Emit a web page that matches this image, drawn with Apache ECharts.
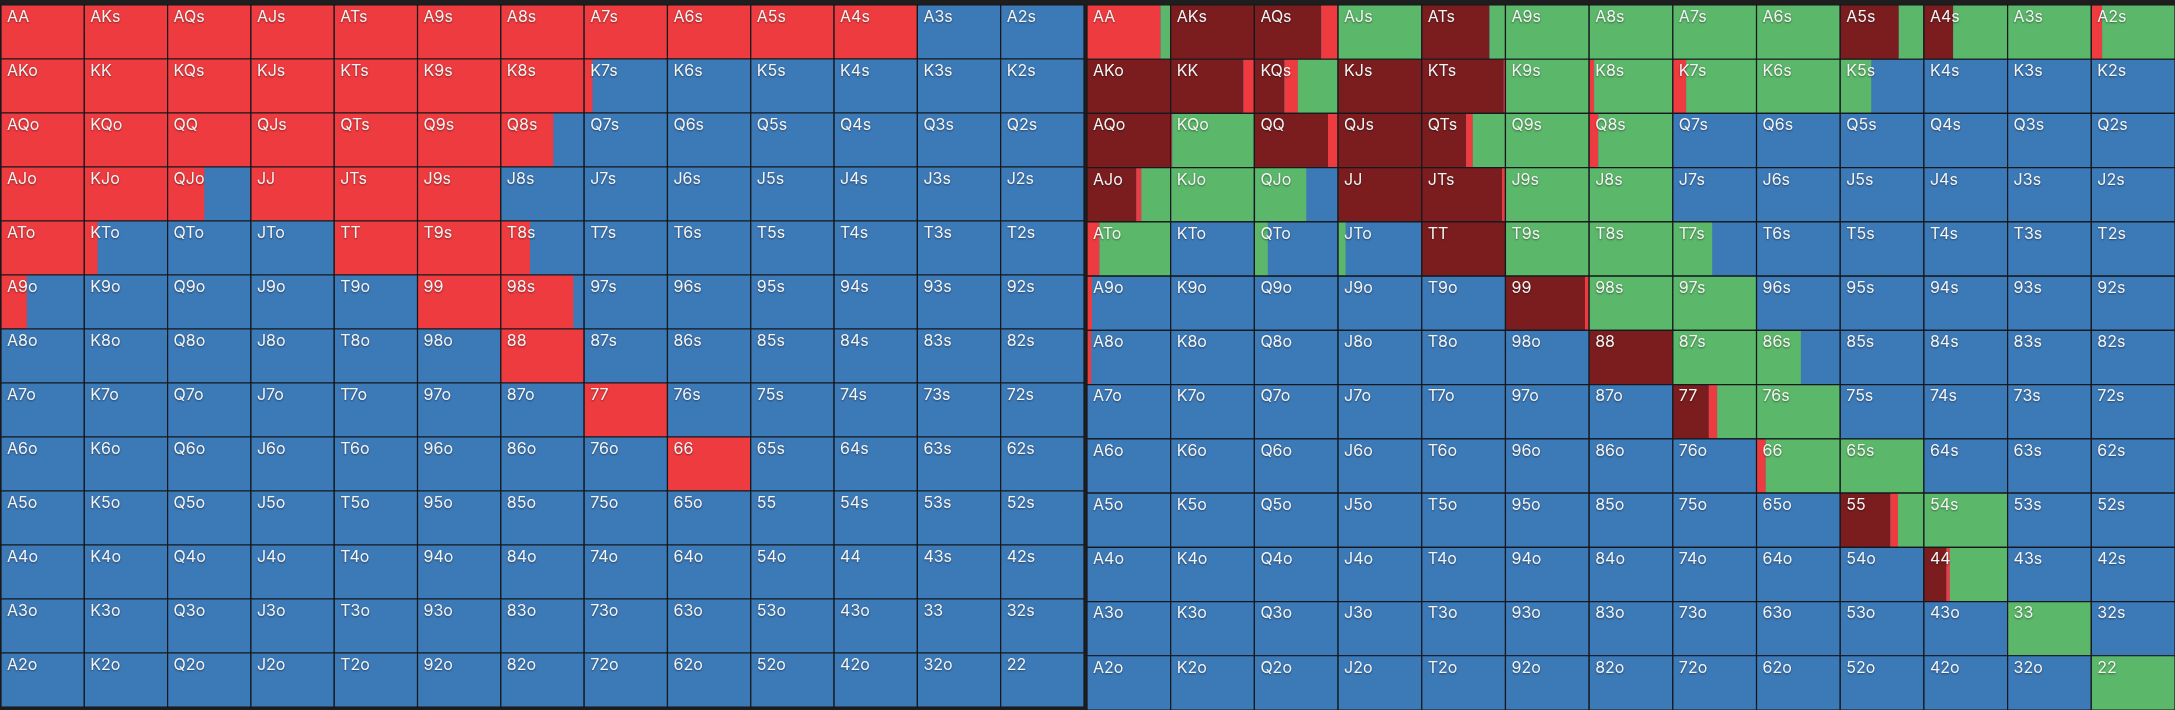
<!DOCTYPE html>
<html>
<head>
<meta charset="utf-8">
<title>range grid</title>
<script src="https://cdn.jsdelivr.net/npm/echarts@6/dist/echarts.min.js"></script>
<style>
    html, body { margin: 0; padding: 0; background: #1e1e1e; }
    #main { width: 2175px; height: 710px; }
</style>
</head>
<body>
<div id="main"></div>
<script>
// 牌面顺序
var ranks = ['A', 'K', 'Q', 'J', 'T', '9', '8', '7', '6', '5', '4', '3', '2'];

// 左图: 加注比例(红色), 其余为弃牌(蓝色)
var leftRaise = [
    [1, 1, 1, 1, 1, 1, 1, 1, 1, 1, 1, 0, 0],
    [1, 1, 1, 1, 1, 1, 1, 0.1, 0, 0, 0, 0, 0],
    [1, 1, 1, 1, 1, 1, 0.63, 0, 0, 0, 0, 0, 0],
    [1, 1, 0.44, 1, 1, 1, 0, 0, 0, 0, 0, 0, 0],
    [1, 0.16, 0, 0, 1, 1, 0.35, 0, 0, 0, 0, 0, 0],
    [0.31, 0, 0, 0, 0, 1, 0.87, 0, 0, 0, 0, 0, 0],
    [0, 0, 0, 0, 0, 0, 1, 0, 0, 0, 0, 0, 0],
    [0, 0, 0, 0, 0, 0, 0, 1, 0, 0, 0, 0, 0],
    [0, 0, 0, 0, 0, 0, 0, 0, 1, 0, 0, 0, 0],
    [0, 0, 0, 0, 0, 0, 0, 0, 0, 0, 0, 0, 0],
    [0, 0, 0, 0, 0, 0, 0, 0, 0, 0, 0, 0, 0],
    [0, 0, 0, 0, 0, 0, 0, 0, 0, 0, 0, 0, 0],
    [0, 0, 0, 0, 0, 0, 0, 0, 0, 0, 0, 0, 0]
];

// 右图: 再加注(深红), 加注(红), 跟注(绿), 其余弃牌(蓝)
var rightReraise = [
    [0, 1, 0.8, 0, 0.81, 0, 0, 0, 0, 0.7, 0.35, 0, 0],
    [1, 0.87, 0.36, 1, 0.98, 0, 0, 0, 0, 0, 0, 0, 0],
    [1, 0, 0.88, 1, 0.53, 0, 0, 0, 0, 0, 0, 0, 0],
    [0.59, 0, 0, 1, 0.96, 0, 0, 0, 0, 0, 0, 0, 0],
    [0, 0, 0, 0, 1, 0, 0, 0, 0, 0, 0, 0, 0],
    [0, 0, 0, 0, 0, 0.95, 0, 0, 0, 0, 0, 0, 0],
    [0, 0, 0, 0, 0, 0, 1, 0, 0, 0, 0, 0, 0],
    [0, 0, 0, 0, 0, 0, 0, 0.43, 0, 0, 0, 0, 0],
    [0, 0, 0, 0, 0, 0, 0, 0, 0, 0, 0, 0, 0],
    [0, 0, 0, 0, 0, 0, 0, 0, 0, 0.6, 0, 0, 0],
    [0, 0, 0, 0, 0, 0, 0, 0, 0, 0, 0.27, 0, 0],
    [0, 0, 0, 0, 0, 0, 0, 0, 0, 0, 0, 0, 0],
    [0, 0, 0, 0, 0, 0, 0, 0, 0, 0, 0, 0, 0]
];
var rightRaise = [
    [0.88, 0, 0.2, 0, 0, 0, 0, 0, 0, 0, 0, 0, 0.13],
    [0, 0.13, 0.16, 0, 0.02, 0, 0.06, 0.16, 0, 0, 0, 0, 0],
    [0, 0.02, 0.12, 0, 0.08, 0, 0.11, 0, 0, 0, 0, 0, 0],
    [0.06, 0, 0.01, 0, 0.04, 0, 0, 0, 0, 0, 0, 0, 0],
    [0.15, 0, 0, 0, 0, 0, 0, 0, 0, 0, 0, 0, 0],
    [0.06, 0, 0, 0, 0, 0.05, 0, 0, 0, 0, 0, 0, 0],
    [0.05, 0, 0, 0, 0, 0, 0, 0, 0, 0, 0, 0, 0],
    [0, 0, 0, 0, 0, 0, 0, 0.1, 0, 0, 0, 0, 0],
    [0, 0, 0, 0, 0, 0, 0, 0, 0.11, 0, 0, 0, 0],
    [0, 0, 0, 0, 0, 0, 0, 0, 0, 0.09, 0, 0, 0],
    [0, 0, 0, 0, 0, 0, 0, 0, 0, 0, 0.04, 0, 0],
    [0, 0, 0, 0, 0, 0, 0, 0, 0, 0, 0, 0, 0],
    [0, 0, 0, 0, 0, 0, 0, 0, 0, 0, 0, 0, 0]
];
var rightCall = [
    [0.12, 0, 0, 1, 0.19, 1, 1, 1, 1, 0.3, 0.65, 1, 0.87],
    [0, 0, 0.48, 0, 0, 1, 0.94, 0.84, 1, 0.37, 0, 0, 0],
    [0, 0.98, 0, 0, 0.39, 1, 0.89, 0, 0, 0, 0, 0, 0],
    [0.35, 1, 0.61, 0, 0, 1, 1, 0, 0, 0, 0, 0, 0],
    [0.85, 0, 0.16, 0.09, 0, 1, 1, 0.47, 0, 0, 0, 0, 0],
    [0, 0, 0, 0, 0, 0, 1, 1, 0, 0, 0, 0, 0],
    [0, 0, 0, 0, 0, 0, 0, 1, 0.53, 0, 0, 0, 0],
    [0, 0, 0, 0, 0, 0, 0, 0.47, 1, 0, 0, 0, 0],
    [0, 0, 0, 0, 0, 0, 0, 0, 0.89, 1, 0, 0, 0],
    [0, 0, 0, 0, 0, 0, 0, 0, 0, 0.31, 1, 0, 0],
    [0, 0, 0, 0, 0, 0, 0, 0, 0, 0, 0.69, 0, 0],
    [0, 0, 0, 0, 0, 0, 0, 0, 0, 0, 0, 1, 0],
    [0, 0, 0, 0, 0, 0, 0, 0, 0, 0, 0, 0, 1]
];

// 颜色: 深红 红 绿 蓝
var colors = ['#7b1d1f', '#ee3b3f', '#5bb769', '#3c79b7'];

/*手牌名称*/
function handName(i, j) {
    if (i === j) return ranks[i] + ranks[j];
    if (i < j) return ranks[i] + ranks[j] + 's';
    return ranks[j] + ranks[i] + 'o';
}

/*生成数据: [列, 行, 深红, 红, 绿, 名称]*/
function buildData(dr, r, g) {
    var arr = [];
    for (var i = 0; i < 13; i++) {
        for (var j = 0; j < 13; j++) {
            arr.push([j, i, dr ? dr[i][j] : 0, r[i][j], g ? g[i][j] : 0, handName(i, j)]);
        }
    }
    return arr;
}

/*绘制每个格子*/
function renderCell(params, api) {
    var c = api.value(0), row = api.value(1);
    var p0 = api.coord([c, row]);
    var p1 = api.coord([c + 1, row + 1]);
    var w = p1[0] - p0[0], h = p1[1] - p0[1];
    var parts = [api.value(2), api.value(3), api.value(4)];
    var children = [];
    // 底色蓝
    children.push({ type: 'rect', shape: { x: p0[0], y: p0[1], width: w, height: h }, style: { fill: colors[3] } });
    var x = p0[0];
    for (var k = 0; k < 3; k++) {
        var pw = parts[k] * w;
        if (pw > 0) {
            children.push({ type: 'rect', shape: { x: x, y: p0[1], width: Math.min(pw, p0[0] + w - x), height: h }, style: { fill: colors[k] } });
        }
        x += pw;
    }
    // 边框
    children.push({ type: 'rect', shape: { x: p0[0], y: p0[1], width: w, height: h }, style: { fill: 'none', stroke: '#15181c', lineWidth: 1.2 } });
    // 文字
    children.push({
        type: 'text',
        x: p0[0] + 6,
        y: p0[1] + 4,
        style: {
            text: api.value(5),
            fill: '#f4f4f4',
            font: '16px Inter',
            verticalAlign: 'top',
            textShadowColor: 'rgba(0,0,0,0.45)',
            textShadowBlur: 2,
            textShadowOffsetY: 1
        }
    });
    return { type: 'group', children: children };
}

var myChart = echarts.init(document.getElementById('main'));
var axisX = { type: 'value', min: 0, max: 13, show: false };
var axisY = { type: 'value', min: 0, max: 13, inverse: true, show: false };
var option = {
    backgroundColor: '#1e1e1e',
    animation: false,
    grid: [
        { left: 1, top: 5, width: 1083, height: 702 },
        { left: 1087, top: 5, width: 1088, height: 705 }
    ],
    xAxis: [Object.assign({ gridIndex: 0 }, axisX), Object.assign({ gridIndex: 1 }, axisX)],
    yAxis: [Object.assign({ gridIndex: 0 }, axisY), Object.assign({ gridIndex: 1 }, axisY)],
    series: [
        {
            type: 'custom',
            xAxisIndex: 0,
            yAxisIndex: 0,
            renderItem: renderCell,
            data: buildData(null, leftRaise, null)
        },
        {
            type: 'custom',
            xAxisIndex: 1,
            yAxisIndex: 1,
            renderItem: renderCell,
            data: buildData(rightReraise, rightRaise, rightCall)
        }
    ]
};
myChart.setOption(option);
window.onresize = myChart.resize;
</script>
</body>
</html>
